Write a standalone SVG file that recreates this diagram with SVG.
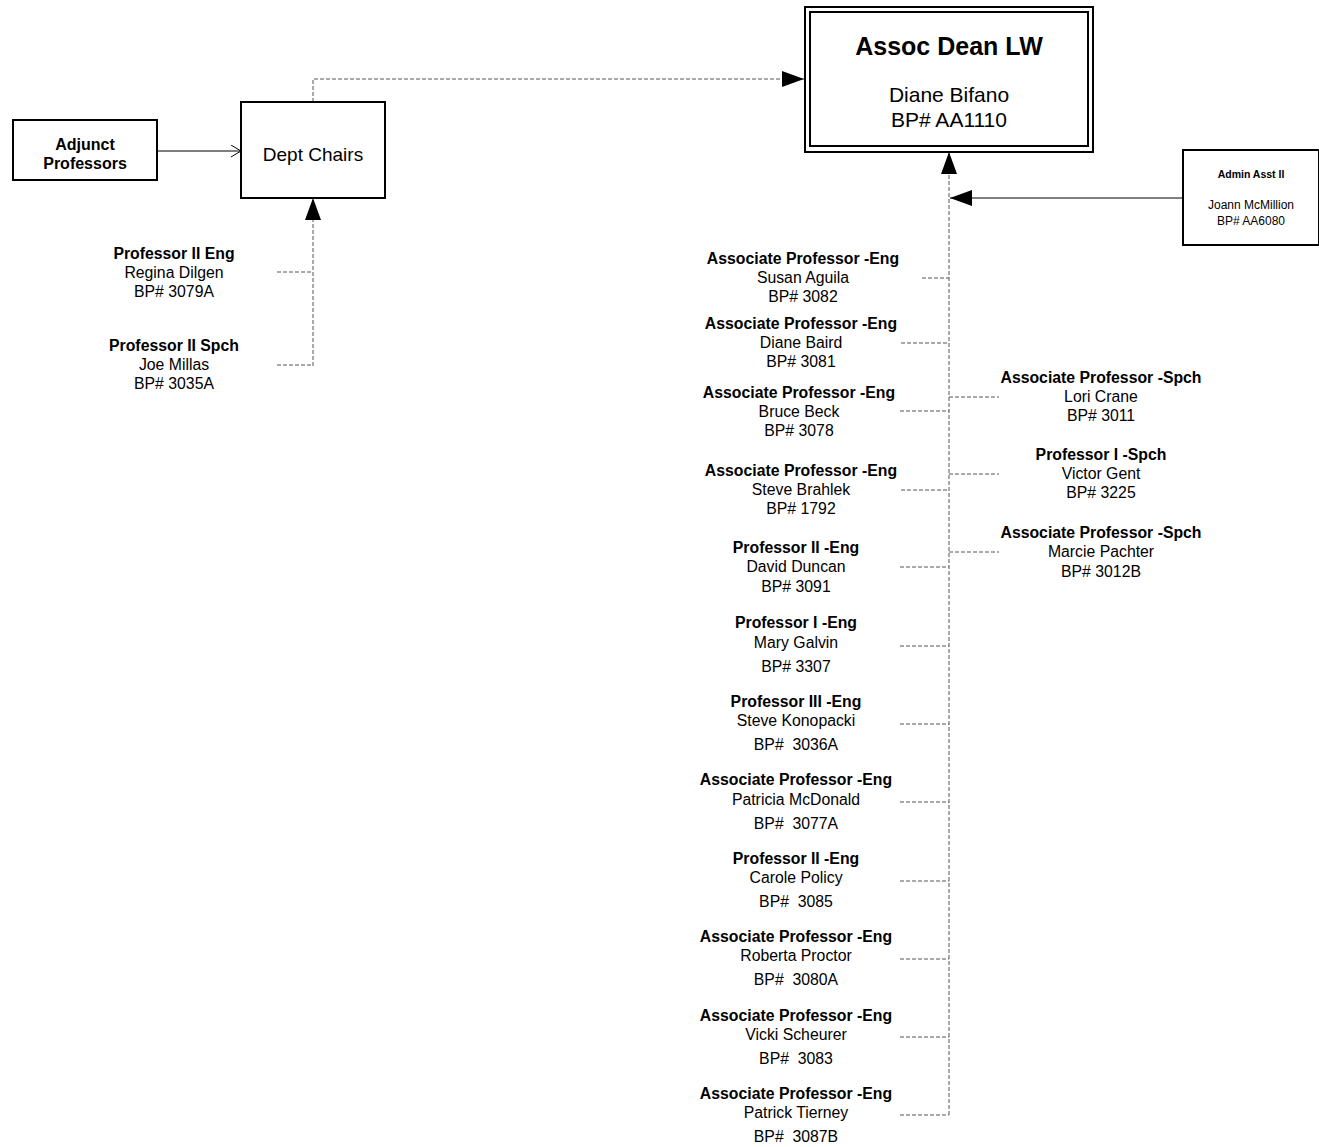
<svg xmlns="http://www.w3.org/2000/svg" width="1319" height="1147" viewBox="0 0 1319 1147">
<defs>
<style>
text{font-family:"Liberation Sans",Arial,sans-serif;fill:#000;text-anchor:middle}
.t{font-weight:bold;font-size:15.8px}
.n{font-size:15.8px}
.box{fill:#fff;stroke:#000;stroke-width:2}
.d{fill:none;stroke:#555;stroke-width:1;stroke-dasharray:4,2}
.s{fill:none;stroke:#000;stroke-width:1}
</style>
<marker id="ah" markerUnits="userSpaceOnUse" markerWidth="24" markerHeight="18" refX="22" refY="8" orient="auto"><path d="M0,0 L22,8 L0,16 Z" fill="#000"/></marker>
<marker id="oa" markerUnits="userSpaceOnUse" markerWidth="12" markerHeight="14" refX="10" refY="6" orient="auto"><path d="M0,0 L10,6 L0,12" fill="none" stroke="#000" stroke-width="1"/></marker>
</defs>
<g id="connectors">
<path class="s" d="M157,151 H241" marker-end="url(#oa)"/>
<path class="d" d="M313,102 V79 H804" marker-end="url(#ah)"/>
<path class="d" d="M313,366 V198" marker-end="url(#ah)"/>
<path class="d" d="M277,272 H313 M277,365 H313"/>
<path class="d" d="M949,1115 V152" marker-end="url(#ah)"/>
<path class="s" d="M1183,198 H950" marker-end="url(#ah)"/>
<path class="d" d="M922,278 H949 M901,343 H949 M900,411 H949 M901,490 H949 M900,567 H949 M900,646 H949 M900,724 H949 M900,802 H949 M900,881 H949 M900,959 H949 M900,1037 H949 M900,1115 H949"/>
<path class="d" d="M949,397 H999 M949,474 H999 M949,552 H999"/>
</g>
<g id="adjunct"><rect class="box" x="13" y="120" width="144" height="60"/><text x="85" y="150" style="font-size:16px;font-weight:bold">Adjunct</text><text x="85" y="169" style="font-size:16px;font-weight:bold">Professors</text></g>
<g id="deptchairs"><rect class="box" x="241" y="102" width="144" height="96"/><text x="313" y="161" style="font-size:19px">Dept Chairs</text></g>
<g id="dean"><rect class="box" x="805" y="7" width="288" height="145"/><rect fill="none" stroke="#000" stroke-width="2" x="810" y="12" width="278" height="134"/>
<text x="949" y="55" style="font-size:25px;font-weight:bold">Assoc Dean LW</text>
<text x="949" y="102" style="font-size:21px">Diane Bifano</text>
<text x="949" y="127" style="font-size:21px">BP# AA1110</text></g>
<g id="admin"><rect class="box" x="1183" y="150" width="136" height="95"/><text x="1251" y="178" style="font-size:10.5px;font-weight:bold">Admin Asst II</text><text x="1251" y="209" style="font-size:12px">Joann McMillion</text><text x="1251" y="225" style="font-size:12px">BP# AA6080</text></g>
<g id="dilgen"><text class="t" x="174" y="259">Professor II Eng</text><text class="n" x="174" y="278">Regina Dilgen</text><text class="n" x="174" y="297">BP# 3079A</text></g>
<g id="millas"><text class="t" x="174" y="351">Professor II Spch</text><text class="n" x="174" y="370">Joe Millas</text><text class="n" x="174" y="389">BP# 3035A</text></g>
<g id="aguila"><text class="t" x="803" y="264">Associate Professor -Eng</text><text class="n" x="803" y="283">Susan Aguila</text><text class="n" x="803" y="302">BP# 3082</text></g>
<g id="baird"><text class="t" x="801" y="329">Associate Professor -Eng</text><text class="n" x="801" y="348">Diane Baird</text><text class="n" x="801" y="367">BP# 3081</text></g>
<g id="beck"><text class="t" x="799" y="398">Associate Professor -Eng</text><text class="n" x="799" y="417">Bruce Beck</text><text class="n" x="799" y="436">BP# 3078</text></g>
<g id="brahlek"><text class="t" x="801" y="476">Associate Professor -Eng</text><text class="n" x="801" y="495">Steve Brahlek</text><text class="n" x="801" y="514">BP# 1792</text></g>
<g id="duncan"><text class="t" x="796" y="553">Professor II -Eng</text><text class="n" x="796" y="572">David Duncan</text><text class="n" x="796" y="592">BP# 3091</text></g>
<g id="galvin"><text class="t" x="796" y="628">Professor I -Eng</text><text class="n" x="796" y="648">Mary Galvin</text><text class="n" x="796" y="672">BP# 3307</text></g>
<g id="konopacki"><text class="t" x="796" y="707">Professor III -Eng</text><text class="n" x="796" y="726">Steve Konopacki</text><text class="n" x="796" y="750" xml:space="preserve">BP#  3036A</text></g>
<g id="mcdonald"><text class="t" x="796" y="785">Associate Professor -Eng</text><text class="n" x="796" y="805">Patricia McDonald</text><text class="n" x="796" y="829" xml:space="preserve">BP#  3077A</text></g>
<g id="policy"><text class="t" x="796" y="864">Professor II -Eng</text><text class="n" x="796" y="883">Carole Policy</text><text class="n" x="796" y="907" xml:space="preserve">BP#  3085</text></g>
<g id="proctor"><text class="t" x="796" y="942">Associate Professor -Eng</text><text class="n" x="796" y="961">Roberta Proctor</text><text class="n" x="796" y="985" xml:space="preserve">BP#  3080A</text></g>
<g id="scheurer"><text class="t" x="796" y="1021">Associate Professor -Eng</text><text class="n" x="796" y="1040">Vicki Scheurer</text><text class="n" x="796" y="1064" xml:space="preserve">BP#  3083</text></g>
<g id="tierney"><text class="t" x="796" y="1099">Associate Professor -Eng</text><text class="n" x="796" y="1118">Patrick Tierney</text><text class="n" x="796" y="1142" xml:space="preserve">BP#  3087B</text></g>
<g id="crane"><text class="t" x="1101" y="383">Associate Professor -Spch</text><text class="n" x="1101" y="402">Lori Crane</text><text class="n" x="1101" y="421">BP# 3011</text></g>
<g id="gent"><text class="t" x="1101" y="460">Professor I -Spch</text><text class="n" x="1101" y="479">Victor Gent</text><text class="n" x="1101" y="498">BP# 3225</text></g>
<g id="pachter"><text class="t" x="1101" y="538">Associate Professor -Spch</text><text class="n" x="1101" y="557">Marcie Pachter</text><text class="n" x="1101" y="577">BP# 3012B</text></g>
</svg>
